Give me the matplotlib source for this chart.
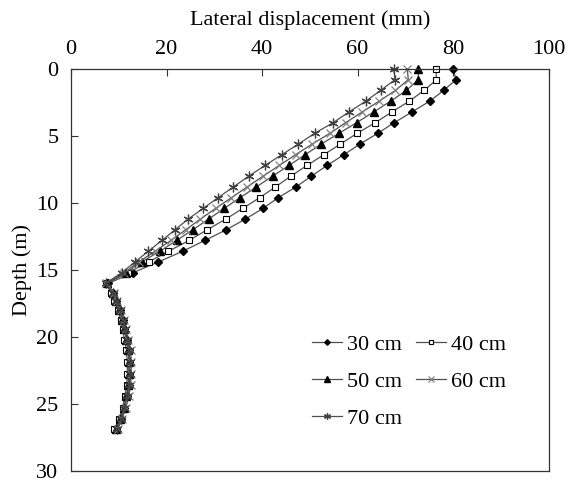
import matplotlib
matplotlib.use("Agg")
import matplotlib.pyplot as plt

plt.rcParams['font.family'] = ['Liberation Serif', 'DejaVu Serif']

# depth of measuring points (m)
depth = [0, 0.8, 1.6, 2.4, 3.2, 4.0, 4.8, 5.6, 6.4, 7.2, 8.0, 8.8, 9.6, 10.4,
         11.2, 12.0, 12.8, 13.6, 14.4, 15.2, 16.0,
         16.7, 17.3, 18.0, 18.7, 19.4, 20.2, 21.0, 21.9, 22.8, 23.6, 24.4, 25.3, 26.1, 26.9]

# lateral displacement (mm) for each case
disp_30 = [80.0, 80.6, 78.0, 75.1, 71.4, 67.7, 64.2, 60.5, 57.1, 53.6, 50.3, 47.1, 43.4, 40.2,
           36.5, 32.5, 28.0, 23.4, 18.3, 13.0, 7.8,
           8.8, 9.5, 10.2, 10.8, 11.2, 11.7, 12.1, 12.2, 12.2, 12.1, 11.7, 11.1, 10.4, 9.5]
disp_40 = [76.4, 76.5, 73.9, 70.8, 67.2, 63.7, 59.9, 56.4, 52.9, 49.4, 46.0, 42.8, 39.5, 36.0,
           32.4, 28.5, 24.7, 20.4, 16.3, 12.0, 7.3,
           8.4, 9.1, 9.8, 10.4, 10.8, 11.2, 11.6, 11.8, 11.8, 11.7, 11.3, 10.8, 10.0, 9.1]
disp_50 = [72.7, 72.7, 70.2, 66.9, 63.4, 59.8, 56.1, 52.4, 49.0, 45.6, 42.2, 38.8, 35.4, 32.1,
           28.8, 25.5, 22.1, 18.6, 14.8, 11.5, 7.5,
           8.7, 9.4, 10.1, 10.7, 11.1, 11.6, 12.0, 12.1, 12.1, 12.0, 11.6, 11.1, 10.3, 9.4]
disp_60 = [70.4, 70.6, 67.9, 64.5, 61.0, 57.5, 54.2, 50.5, 47.0, 43.6, 40.2, 36.9, 33.6, 30.3,
           27.1, 24.0, 20.9, 17.6, 14.2, 11.1, 7.4,
           9.0, 9.7, 10.4, 11.0, 11.5, 12.0, 12.5, 12.6, 12.6, 12.5, 12.1, 11.5, 10.7, 9.8]
disp_70 = [67.6, 67.8, 64.8, 61.7, 58.2, 54.9, 51.0, 47.6, 44.1, 40.6, 37.2, 34.0, 30.8, 27.7,
           24.5, 21.8, 19.0, 16.2, 13.4, 10.6, 7.3,
           8.8, 9.5, 10.2, 10.8, 11.3, 11.8, 12.2, 12.3, 12.3, 12.2, 11.8, 11.2, 10.5, 9.6]

labels = ['30 cm', '40 cm', '50 cm', '60 cm', '70 cm']

fig = plt.figure(figsize=(5.77, 4.86), dpi=100)
ax = fig.add_axes([0.123, 0.031, 0.828, 0.827])

lc = '#505050'
h30, = ax.plot(disp_30, depth, color=lc, lw=0.9, marker='D', ms=4, mfc='black', mec='black', label=labels[0], clip_on=False)
h40, = ax.plot(disp_40, depth, color=lc, lw=0.9, marker='s', ms=5, mfc='white', mec='black', mew=0.8, label=labels[1], clip_on=False)
h50, = ax.plot(disp_50, depth, color=lc, lw=0.9, marker='^', ms=6, mfc='black', mec='black', label=labels[2], clip_on=False)
h60, = ax.plot(disp_60, depth, color=lc, lw=0.9, marker='x', ms=6, mec='#808080', mew=0.9, label=labels[3], clip_on=False)
h70, = ax.plot(disp_70, depth, color=lc, lw=0.9, marker=(6, 2, 0), ms=7, mec='#404040', mew=0.9, label=labels[4], clip_on=False)

ax.set_xlim(0, 100)
ax.set_ylim(30, 0)
ax.xaxis.tick_top()
ax.xaxis.set_label_position('top')
ax.set_xticks(range(0, 101, 20))
ax.set_yticks(range(0, 31, 5))
ax.tick_params(direction='in', length=5, width=0.8, labelsize=16, colors='#333333', labelcolor='black')
ax.tick_params(axis='x', pad=7)
ax.tick_params(axis='y', pad=9)
ax.set_xlabel('Lateral displacement (mm)', fontsize=16, labelpad=11)
ax.set_ylabel('Depth (m)', fontsize=16, labelpad=3)
for s in ax.spines.values():
    s.set_color('#333333')
    s.set_linewidth(0.9)

ax.legend([h30, h50, h70, h40, h60], [labels[0], labels[2], labels[4], labels[1], labels[3]],
          ncol=2, frameon=False, fontsize=16, loc='upper left', bbox_to_anchor=(0.462, 0.39),
          handlelength=1.35, handletextpad=0.25, columnspacing=0.6, labelspacing=0.75, markerscale=0.7)

fig.savefig('out.png', dpi=100)
